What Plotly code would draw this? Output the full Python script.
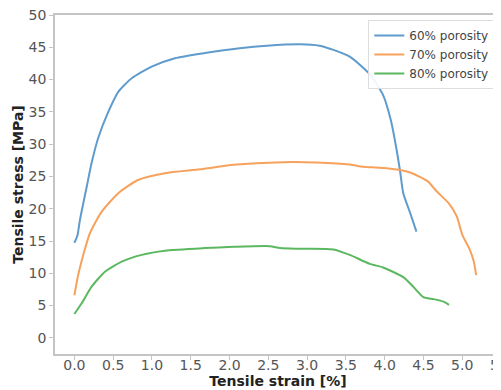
import plotly.graph_objects as go

# 60% porosity
x60 = [0.0, 0.04, 0.072, 0.159, 0.22, 0.308, 0.437, 0.566, 0.739, 0.996, 1.297, 1.684,
       2.13, 2.48, 2.91, 3.16, 3.34, 3.55, 3.81, 3.98, 4.08, 4.15, 4.20, 4.24, 4.33, 4.41]
y60 = [14.7, 15.9, 18.3, 23.4, 27.0, 31.0, 35.0, 38.1, 40.2, 42.0, 43.3, 44.1,
       44.85, 45.25, 45.47, 45.25, 44.6, 43.55, 40.8, 37.6, 33.7, 29.4, 25.7, 22.4, 19.3, 16.45]

# 70% porosity
x70 = [0.0, 0.05, 0.137, 0.2, 0.35, 0.566, 0.82, 1.168, 1.62, 2.05, 2.69, 3.12, 3.55, 3.72,
       3.94, 4.2, 4.33, 4.56, 4.67, 4.83, 4.93, 5.0, 5.10, 5.15, 5.18]
y70 = [6.6, 9.8, 13.8, 16.2, 19.5, 22.4, 24.45, 25.5, 26.1, 26.8, 27.2, 27.15, 26.85, 26.5,
       26.35, 26.0, 25.6, 24.2, 22.7, 20.8, 18.8, 16.0, 13.6, 11.8, 9.7]

# 80% porosity
x80 = [0.0, 0.094, 0.22, 0.394, 0.61, 0.868, 1.168, 1.68, 2.05, 2.52, 2.65, 2.91, 3.34,
       3.55, 3.81, 3.98, 4.24, 4.37, 4.50, 4.63, 4.76, 4.83]
y80 = [3.7, 5.35, 7.9, 10.25, 11.8, 12.85, 13.5, 13.9, 14.1, 14.2, 13.9, 13.8, 13.7,
       12.85, 11.45, 10.9, 9.4, 7.9, 6.3, 6.0, 5.6, 5.1]

series_names = ["60% porosity", "70% porosity", "80% porosity"]
series_colors = ["#5f9bcc", "#f7a25c", "#5cb860"]

x_ticks = [0.0, 0.5, 1.0, 1.5, 2.0, 2.5, 3.0, 3.5, 4.0, 4.5, 5.0, 5.5]
y_ticks = [0, 5, 10, 15, 20, 25, 30, 35, 40, 45, 50]

fig = go.Figure()
for xs, ys, name, col in zip([x60, x70, x80], [y60, y70, y80], series_names, series_colors):
    fig.add_trace(go.Scatter(x=xs, y=ys, mode="lines", name=name,
                             line=dict(color=col, width=2, shape="spline", smoothing=0.6)))

axis_grey = "#c4c4c4"
fig.update_layout(
    width=493, height=382,
    margin=dict(l=47, r=0, t=7, b=36),
    paper_bgcolor="white", plot_bgcolor="white",
    font=dict(family="DejaVu Sans", size=14, color="#555555"),
    showlegend=True,
    legend=dict(x=0.985, y=0.985, xanchor="right", yanchor="top",
                bgcolor="rgba(255,255,255,0.9)", bordercolor="#dddddd", borderwidth=1,
                font=dict(size=12, color="#444444"), itemwidth=30, tracegroupgap=0),
    xaxis=dict(range=[-0.25, 5.5], tickvals=x_ticks, ticktext=[f"{v:.1f}" for v in x_ticks],
               showgrid=False, zeroline=False, showline=True, linecolor=axis_grey, linewidth=1.5,
               mirror=True, ticks="outside", ticklen=4, tickcolor=axis_grey,
               ticklabeloverflow="allow", ticklabelstandoff=-7, automargin=False,
               title=dict(text="<b>Tensile strain [%]</b>", font=dict(size=14, color="#222222"),
                          standoff=3)),
    yaxis=dict(range=[-2.5, 50], tickvals=y_ticks, showgrid=False, zeroline=False,
               showline=True, linecolor=axis_grey, linewidth=1.5,
               ticks="outside", ticklen=4, tickcolor=axis_grey, automargin=False,
               ticklabeloverflow="allow",
               title=dict(text="<b>Tensile stress [MPa]</b>", font=dict(size=14, color="#222222"),
                          standoff=2)),
)

fig.write_html("out.html")
